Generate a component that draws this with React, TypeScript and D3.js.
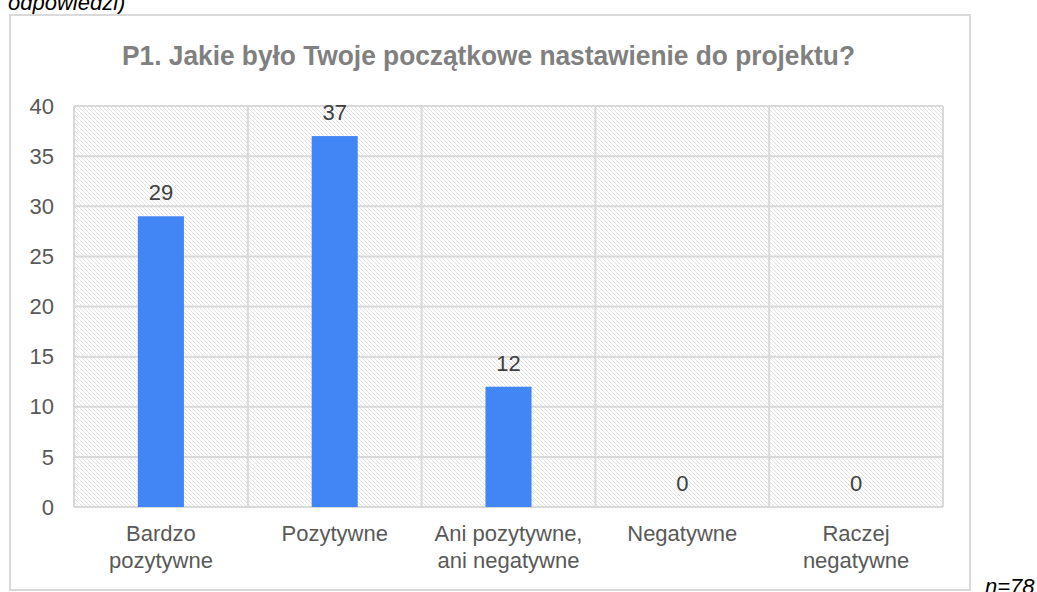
import * as d3 from "d3";

const categories: string[][] = [
  ["Bardzo", "pozytywne"],
  ["Pozytywne"],
  ["Ani pozytywne,", "ani negatywne"],
  ["Negatywne"],
  ["Raczej", "negatywne"],
];
const values = [29, 37, 12, 0, 0];
const yTicks = [0, 5, 10, 15, 20, 25, 30, 35, 40];
const title = "P1. Jakie było Twoje początkowe nastawienie do projektu?";

const W = 1037;
const H = 592;
const plot = { left: 74, right: 943, top: 106, bottom: 507 };
const font = "'Liberation Sans', Arial, sans-serif";
const grid = "#d9d9d9";

export default function App() {
  const keys = categories.map((c) => c.join(" "));
  const x = d3.scaleBand<string>().domain(keys).range([plot.left, plot.right]);
  const y = d3.scaleLinear().domain([0, 40]).range([plot.bottom, plot.top]);
  const barW = x.bandwidth() * 0.265;

  return (
    <svg
      width={W}
      height={H}
      style={{ position: "absolute", left: 0, top: 0, background: "#fff" }}
      fontFamily={font}
    >
      <defs>
        <pattern id="hatch" width={4} height={4} patternUnits="userSpaceOnUse">
          <rect width={4} height={4} fill="#fff" />
          <path d="M-1,-1 L5,5 M-1,3 L1,5 M3,-1 L5,1" stroke="#e2e2e2" strokeWidth={1} />
        </pattern>
      </defs>

      {/* text above the chart, cut by the top edge */}
      <text x={8} y={10} fontSize={22} fontStyle="italic" fill="#000">
        odpowiedzi)
      </text>

      {/* chart frame */}
      <rect x={10} y={15} width={960} height={575} fill="#fff" stroke={grid} strokeWidth={2} />

      <text
        x={488.5}
        y={65}
        textAnchor="middle"
        fontSize={28}
        fontWeight="bold"
        fill="#808080"
        textLength={733}
        lengthAdjust="spacingAndGlyphs"
      >
        {title}
      </text>

      {/* plot area with hatch */}
      <rect
        x={plot.left}
        y={plot.top}
        width={plot.right - plot.left}
        height={plot.bottom - plot.top}
        fill="url(#hatch)"
      />

      {/* horizontal gridlines */}
      {yTicks.map((t) => (
        <g key={t}>
          <line x1={plot.left} x2={plot.right} y1={y(t)} y2={y(t)} stroke={grid} strokeWidth={2} />
          <text
            x={54}
            y={y(t)}
            dy="0.35em"
            textAnchor="end"
            fontSize={22}
            fill="#595959"
          >
            {t}
          </text>
        </g>
      ))}

      {/* vertical category dividers */}
      {keys.map((k) => (
        <line
          key={k}
          x1={x(k)!}
          x2={x(k)!}
          y1={plot.top}
          y2={plot.bottom}
          stroke={grid}
          strokeWidth={2}
        />
      ))}
      <line x1={plot.right} x2={plot.right} y1={plot.top} y2={plot.bottom} stroke={grid} strokeWidth={2} />

      {/* bars */}
      {keys.map((k, i) => {
        const cx = x(k)! + x.bandwidth() / 2;
        return (
          <g key={k}>
            {values[i] > 0 && (
              <rect
                x={cx - barW / 2}
                y={y(values[i])}
                width={barW}
                height={y(0) - y(values[i])}
                fill="#4285f4"
              />
            )}
            <text
              x={cx}
              y={y(values[i]) - 16}
              textAnchor="middle"
              fontSize={22}
              fill="#404040"
            >
              {values[i]}
            </text>
            {categories[i].map((line, j) => (
              <text
                key={j}
                x={cx}
                y={541 + j * 27}
                textAnchor="middle"
                fontSize={22}
                fill="#595959"
              >
                {line}
              </text>
            ))}
          </g>
        );
      })}

      <text x={985} y={594} fontSize={22} fontStyle="italic" fill="#000">
        n=78
      </text>
    </svg>
  );
}
